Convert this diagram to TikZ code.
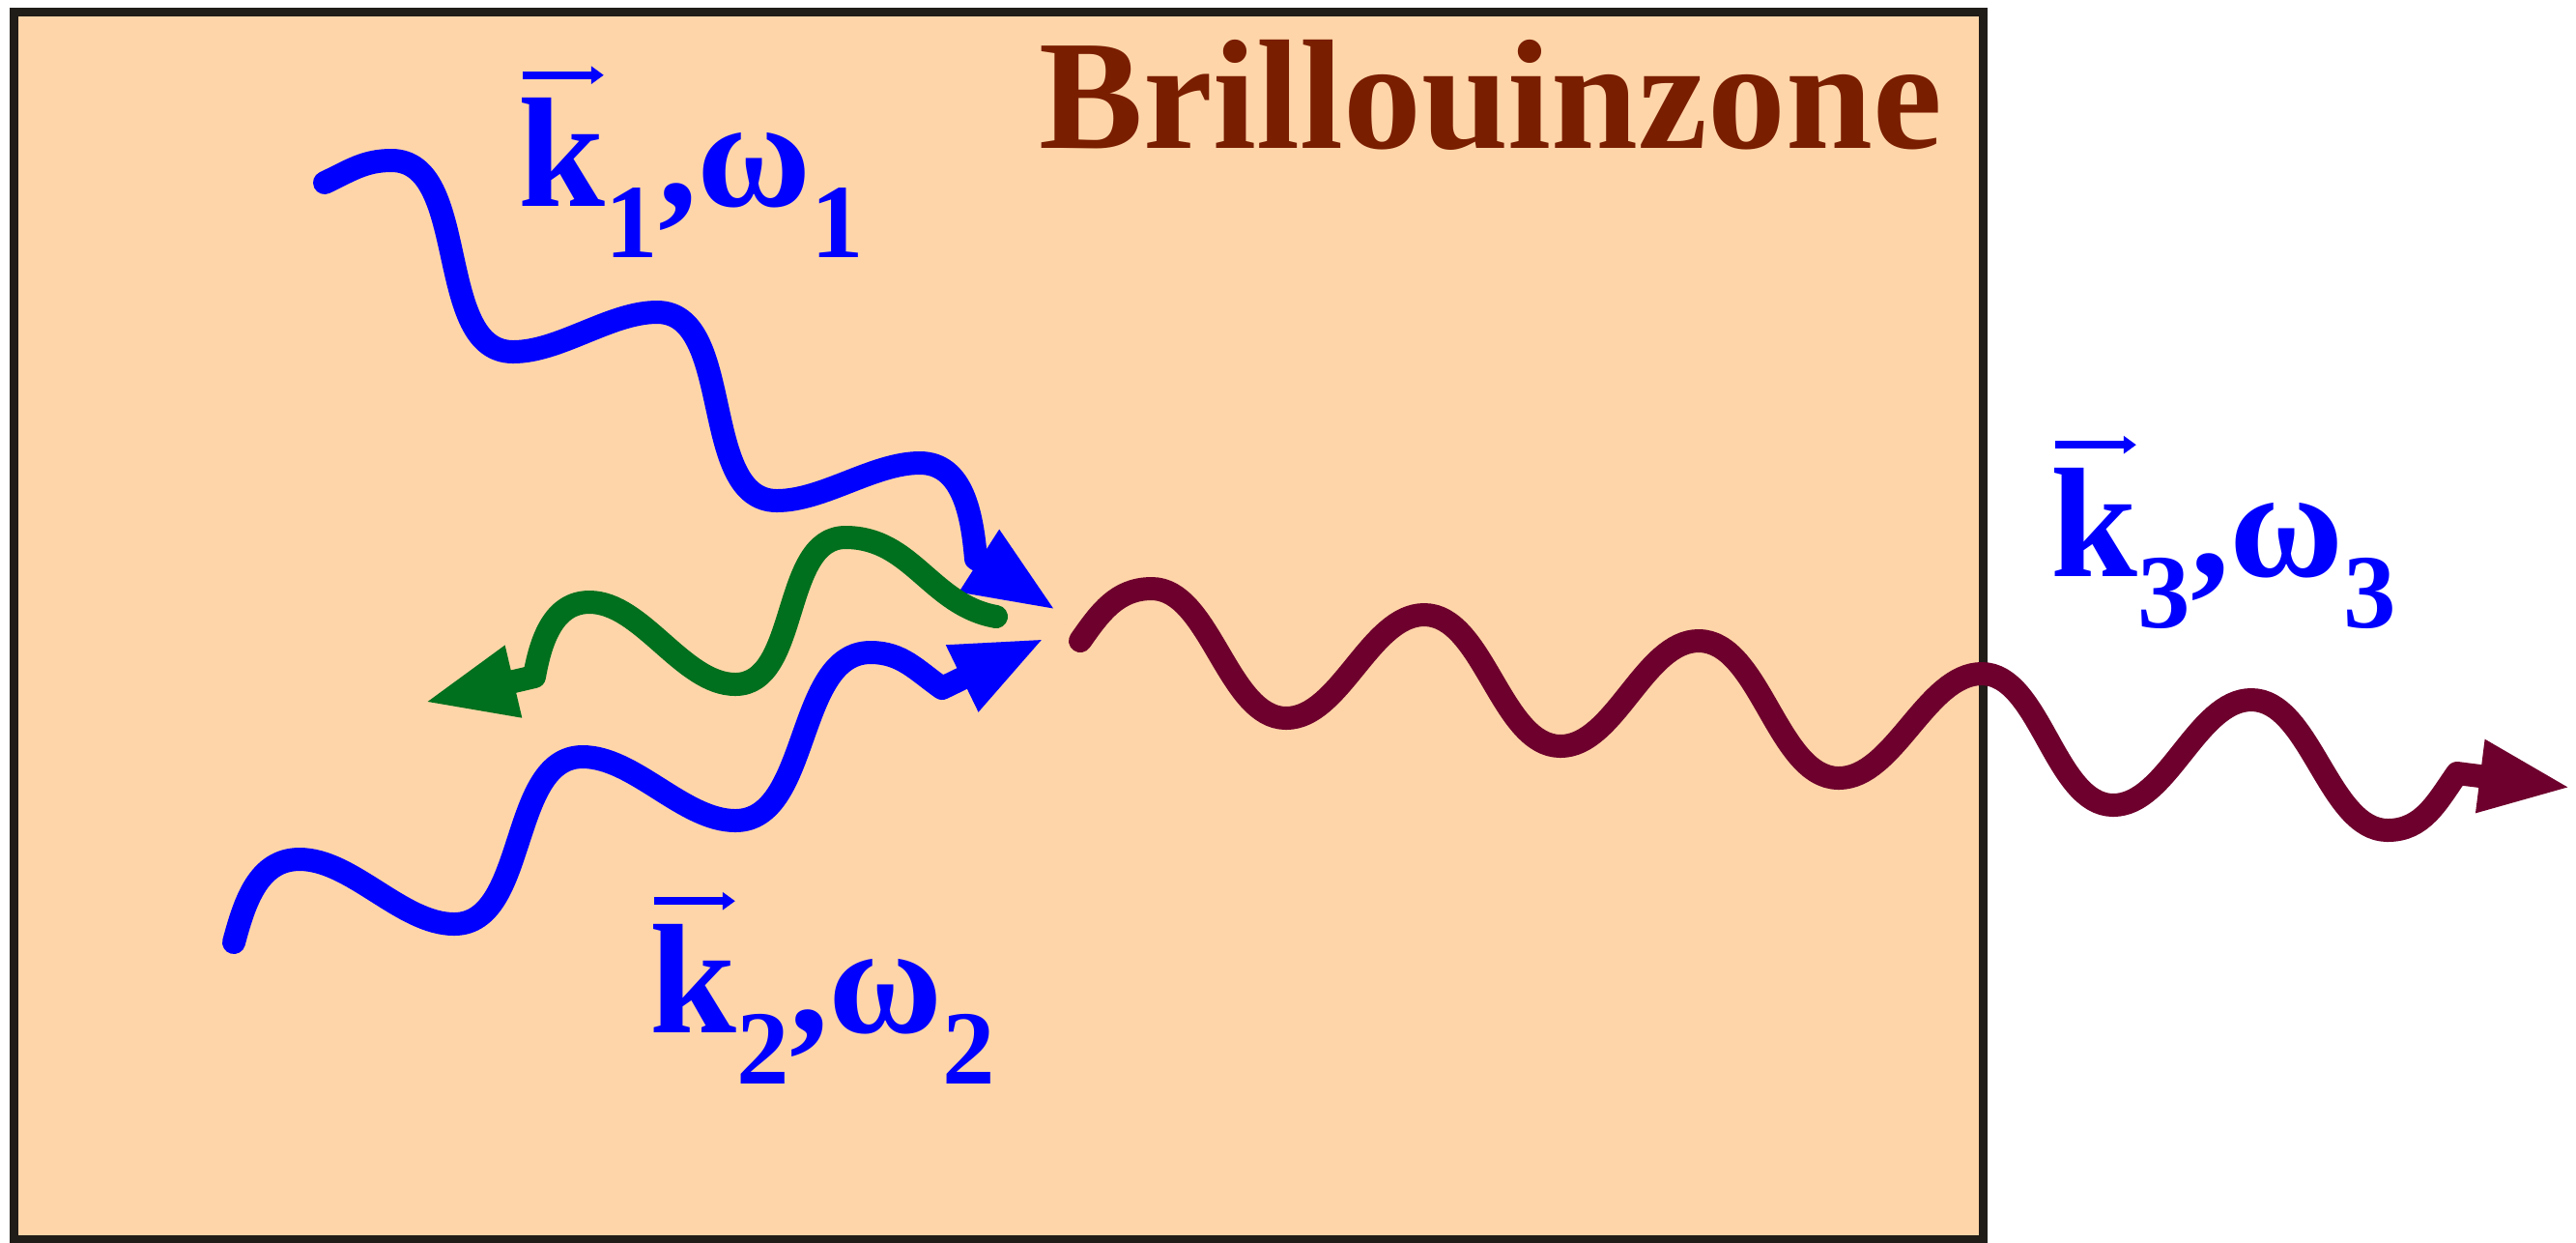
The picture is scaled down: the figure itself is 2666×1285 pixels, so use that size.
\documentclass[tikz,border=0pt]{standalone}
\usepackage{fontspec}
\setmainfont{Liberation Serif}
\usepackage{graphicx}
\usetikzlibrary{arrows.meta}
\definecolor{zonefill}{RGB}{254,213,168}
\definecolor{zoneline}{RGB}{32,28,24}
\definecolor{titlebrown}{RGB}{122,30,0}
\definecolor{waveblue}{RGB}{0,0,255}
\definecolor{wavegreen}{RGB}{0,112,30}
\definecolor{wavemaroon}{RGB}{110,0,45}

% wave vector: k with a small arrow on top
\newcommand{\kvec}{\leavevmode\rlap{\tikz[baseline=0pt]\draw[waveblue, line width=0.05em, -{Triangle[length=0.08em,width=0.11em]}] (0,0.84em) -- (0.52em,0.84em);}k}
\newcommand{\lsub}[1]{\raisebox{-0.33em}{\fontsize{31}{31}\selectfont #1}}

\begin{document}
\begin{tikzpicture}[x=0.1mm, y=0.1mm,
  wave/.style={line width=2.4mm, line cap=round, line join=round, -{Triangle[length=9.6mm, width=6.9mm]}},
  steep/.style={out=0, in=180, looseness=0.9},
  flat/.style={out=0, in=180, looseness=0.8},
  lab/.style={anchor=base west, inner sep=0pt, text=waveblue, font=\fontsize{46}{50}\selectfont\bfseries}
]
\useasboundingbox (0,0) rectangle (2666,-1285);

% Brillouin zone
\draw[line width=0.9mm, draw=zoneline, fill=zonefill] (14,-12) rectangle (2052,-1282);
\node[anchor=base west, inner sep=0pt, text=titlebrown, font=\fontsize{46}{50}\selectfont\bfseries] (title) at (1075,-153.4) {Brillouinzone};

% labels
\node[lab] (lab1) at (536,-213.5) {\kvec\lsub{1},ω\lsub{1}};
\node[lab] (lab2) at (672,-1068) {\kvec\lsub{2},ω\lsub{2}};
\node[lab] (lab3) at (2122,-596) {\kvec\lsub{3},ω\lsub{3}};

% arrow tips
\coordinate (tip1) at (1094,-632);
\coordinate (tip2) at (1082,-660);
\coordinate (tip3) at (438,-727);
\coordinate (tip4) at (2662,-815);

% incoming wave 1
\draw[wave, waveblue] (336,-189) to[out=25,in=180] (405,-166)
  to[steep] (531,-364) to[flat] (680,-323)
  to[steep] (804,-518) to[flat] (952,-479)
  to[out=0,in=95] (1010,-578) -- (tip1);
% incoming wave 2
\draw[wave, waveblue] (242,-975) to[out=75,in=180] (310,-889)
  to[flat] (470,-956) to[steep] (603,-783)
  to[flat] (761,-849) to[steep] (901,-675)
  to[out=0,in=145] (975,-712) -- (tip2);
% reflected wave
\draw[wave, wavegreen] (1031,-638) to[out=170,in=0] (875,-556)
  to[out=180,in=0,looseness=0.9] (761,-708) to[out=180,in=0,looseness=0.8] (610,-623)
  to[out=180,in=80] (553,-700) -- (tip3);
% outgoing wave
\draw[wave, wavemaroon] (1118,-663) to[out=55,in=180] (1192,-609)
  \foreach \xa/\ya/\xb/\yb in {1331/743/1474/636, 1615/772/1758/663, 1903/805/2051/697, 2187/833/2330/724}
    { to[flat] (\xa,-\ya) to[flat] (\xb,-\yb) }
  to[flat] (2471,-859) to[out=0,in=235] (2543,-800) -- (tip4);
\end{tikzpicture}
\end{document}
